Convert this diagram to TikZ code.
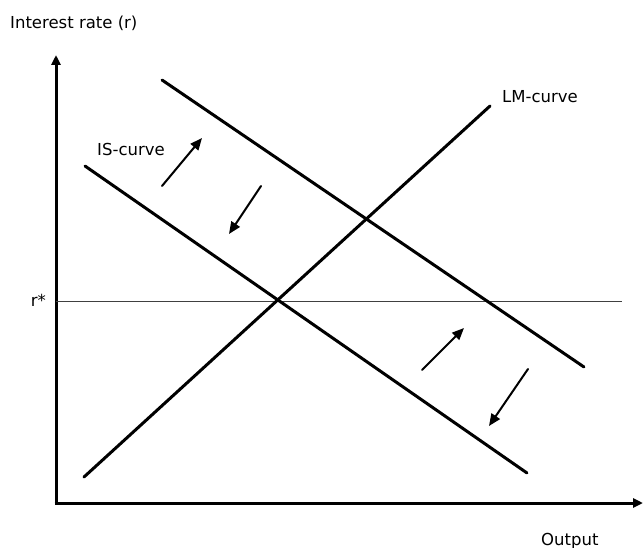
\documentclass[tikz,border=0pt]{standalone}
\usepackage{fontspec}
\setmainfont{DejaVu Sans}
\usetikzlibrary{arrows.meta}
\begin{document}
\begin{tikzpicture}[x=1pt,y=-1pt,
  curveline/.style={line width=3pt,line cap=round},
  axisline/.style={line width=3pt,-{Triangle[length=10pt,width=9pt]}},
  shiftarrow/.style={line width=2pt,line cap=round,-{Triangle[length=12pt,width=10pt]}},
  lbl/.style={inner sep=0pt,font=\fontsize{16.5}{19}\selectfont}]
\useasboundingbox (0,0) rectangle (643,548);
% axes
\coordinate (O) at (56,503);
\coordinate (Ytip) at (56,55);
\coordinate (Xtip) at (643,503);
\coordinate (Ybase) at (56,504.5);
\coordinate (Xbase) at (54.5,503);
\draw[axisline] (Ybase) -- (Ytip);
\draw[axisline] (Xbase) -- (Xtip);
% r* line
\coordinate (rs0) at (56,301.5);
\coordinate (rs1) at (622,301.5);
\draw[line width=1pt,black!75] (rs0) -- (rs1);
% curves
\coordinate (LMa) at (84,477);
\coordinate (LMb) at (490,106);
\coordinate (ISa) at (85,166);
\coordinate (ISb) at (527,473);
\coordinate (IS2a) at (162,80);
\coordinate (IS2b) at (584,367);
\draw[curveline] (LMa) -- (LMb);
\draw[curveline] (ISa) -- (ISb);
\draw[curveline] (IS2a) -- (IS2b);
% shift arrows
\coordinate (A1s) at (162,186); \coordinate (A1e) at (202,138);
\coordinate (A2s) at (261,186); \coordinate (A2e) at (229,234);
\coordinate (A3s) at (422,370); \coordinate (A3e) at (464,328);
\coordinate (A4s) at (528,369); \coordinate (A4e) at (489,426);
\draw[shiftarrow] (A1s) -- (A1e);
\draw[shiftarrow] (A2s) -- (A2e);
\draw[shiftarrow] (A3s) -- (A3e);
\draw[shiftarrow] (A4s) -- (A4e);
% labels
\node[lbl,anchor=base west] (ylab) at (10,29) {Interest rate (r)};
\node[lbl,anchor=base west] (islab) at (97,156) {IS-curve};
\node[lbl,anchor=base west] (lmlab) at (502,103) {LM-curve};
\node[lbl,anchor=base east] (rslab) at (46,307) {r*};
\node[lbl,anchor=base west] (xlab) at (541,545) {Output};
\end{tikzpicture}
\end{document}
